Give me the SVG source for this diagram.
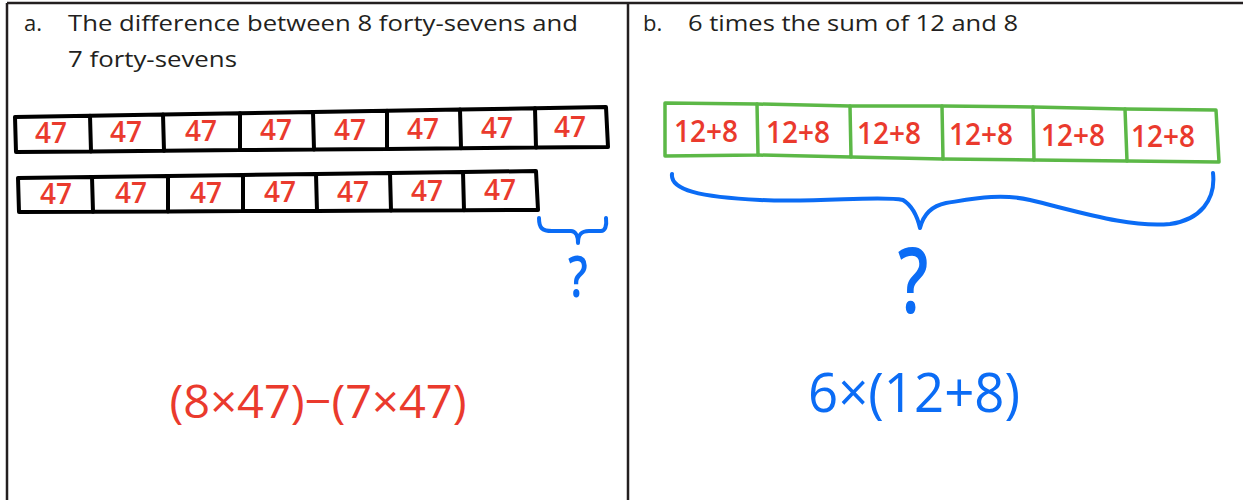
<svg xmlns="http://www.w3.org/2000/svg" width="1243" height="500" viewBox="0 0 1243 500">
<style>
.frame{stroke:#231f20;stroke-width:2.5;fill:none}
.head{font-family:"Open Sans","Liberation Sans",sans-serif;font-size:22px;fill:#231f20}
.bk{fill:none;stroke:#000;stroke-width:4;stroke-linejoin:round;stroke-linecap:round}
.gb{fill:none;stroke:#5cb847;stroke-width:3.5;stroke-linejoin:round;stroke-linecap:round}
.hand{font-family:"Open Sans","Noto Sans",sans-serif;font-weight:600;fill:#ea3a2d;text-anchor:middle}
.expr{font-weight:500}
.n47{font-size:28px}
.n128{font-size:30px}
.blue{fill:#0b6cf5}
.brace{fill:none;stroke:#0b6cf5;stroke-width:4;stroke-linecap:round;stroke-linejoin:round}
</style>
<rect width="1243" height="500" fill="#fff"/>
<g id="table">
<path class="frame" d="M7,3 H1243 M7,3 V500 M628,3 V500"/>
</g>
<g id="heading-a">
<text class="head" x="24" y="31">a.</text>
<text class="head" x="68" y="31" textLength="510" lengthAdjust="spacingAndGlyphs">The difference between 8 forty-sevens and</text>
<text class="head" x="68" y="67" textLength="169" lengthAdjust="spacingAndGlyphs">7 forty-sevens</text>
</g>
<g id="heading-b">
<text class="head" x="643" y="31">b.</text>
<text class="head" x="688" y="31" textLength="330" lengthAdjust="spacingAndGlyphs">6 times the sum of 12 and 8</text>
</g>
<g id="row-8x47">
<path class="bk" d="M15,117 L90,115.7 L91,151.4 L16,152 Z"/>
<path class="bk" d="M90,115.7 L163,114.5 L164,150.8 L91,151.4"/>
<path class="bk" d="M163,114.5 L240,113.2 L240,150.1 L164,150.8"/>
<path class="bk" d="M240,113.2 L313,112 L314,149.5 L240,150.1"/>
<path class="bk" d="M313,112 L387,110.7 L387,148.9 L314,149.5"/>
<path class="bk" d="M387,110.7 L460,109.5 L461,148.2 L387,148.9"/>
<path class="bk" d="M460,109.5 L535,108.2 L536,147.6 L461,148.2"/>
<path class="bk" d="M535,108.2 L606,107 L608,147 L536,147.6"/>
<text class="hand n47" x="51" y="143">47</text>
<text class="hand n47" x="126" y="142">47</text>
<text class="hand n47" x="201" y="141">47</text>
<text class="hand n47" x="276" y="140">47</text>
<text class="hand n47" x="350" y="140">47</text>
<text class="hand n47" x="423" y="139">47</text>
<text class="hand n47" x="497" y="138">47</text>
<text class="hand n47" x="570" y="137">47</text>
</g>
<g id="row-7x47">
<path class="bk" d="M18,178 L92,177 L93,211.7 L19,212 Z"/>
<path class="bk" d="M92,177 L168,176 L168,211.4 L93,211.7"/>
<path class="bk" d="M168,176 L243,175 L243,211.1 L168,211.4"/>
<path class="bk" d="M243,175 L316,174 L317,210.9 L243,211.1"/>
<path class="bk" d="M316,174 L390,173 L391,210.6 L317,210.9"/>
<path class="bk" d="M390,173 L463,172 L464,210.3 L391,210.6"/>
<path class="bk" d="M463,172 L536,171 L538,210 L464,210.3"/>
<text class="hand n47" x="56" y="204">47</text>
<text class="hand n47" x="131" y="203">47</text>
<text class="hand n47" x="206" y="203">47</text>
<text class="hand n47" x="280" y="202">47</text>
<text class="hand n47" x="353" y="202">47</text>
<text class="hand n47" x="427" y="201">47</text>
<text class="hand n47" x="500" y="200">47</text>
</g>
<g id="row-6x12plus8">
<path class="gb" d="M665,103 L757,104 L758,155 L665,156 Z"/>
<path class="gb" d="M757,104 L850,106 L851,157 L758,155"/>
<path class="gb" d="M850,106 L942,106 L943,159 L851,157"/>
<path class="gb" d="M942,106 L1033,107 L1034,160 L943,159"/>
<path class="gb" d="M1033,107 L1125,109 L1127,161 L1034,160"/>
<path class="gb" d="M1125,109 L1216,110 L1219,162 L1127,161"/>
<text class="hand n128" x="706" y="142" textLength="64" lengthAdjust="spacingAndGlyphs">12+8</text>
<text class="hand n128" x="798" y="143" textLength="64" lengthAdjust="spacingAndGlyphs">12+8</text>
<text class="hand n128" x="889" y="144" textLength="64" lengthAdjust="spacingAndGlyphs">12+8</text>
<text class="hand n128" x="981" y="145" textLength="64" lengthAdjust="spacingAndGlyphs">12+8</text>
<text class="hand n128" x="1073" y="146" textLength="64" lengthAdjust="spacingAndGlyphs">12+8</text>
<text class="hand n128" x="1163" y="147" textLength="64" lengthAdjust="spacingAndGlyphs">12+8</text>
</g>
<g id="connectors">
<path class="brace" d="M539,218 C539,228 542,231 552,231 L571,231 C575,231 578,235 578,243 C578,235 581,231 589,231 L601,231 C605,231 607,226 606,218"/>
<path class="brace" d="M672,174 C670,190 700,197 760,200 C820,203 880,195 903,200 C911,205 917,215 920,228 C923,216 931,206 946,203 C972,199 1000,193 1030,200 C1080,212 1130,228 1170,224 C1200,220 1216,200 1213,173"/>
</g>
<g id="question-a">
<text class="hand blue" transform="translate(578,297) scale(0.75,1)" font-size="58">?</text>
</g>
<g id="question-b">
<text class="hand blue" transform="translate(913,313) scale(0.75,1)" font-size="90">?</text>
</g>
<g id="expression-a">
<text class="hand expr" x="318" y="418" font-size="46" textLength="297" lengthAdjust="spacingAndGlyphs">(8×47)−(7×47)</text>
</g>
<g id="expression-b">
<text class="hand expr blue" x="914" y="412" font-size="54" textLength="212" lengthAdjust="spacingAndGlyphs">6×(12+8)</text>
</g>
</svg>
